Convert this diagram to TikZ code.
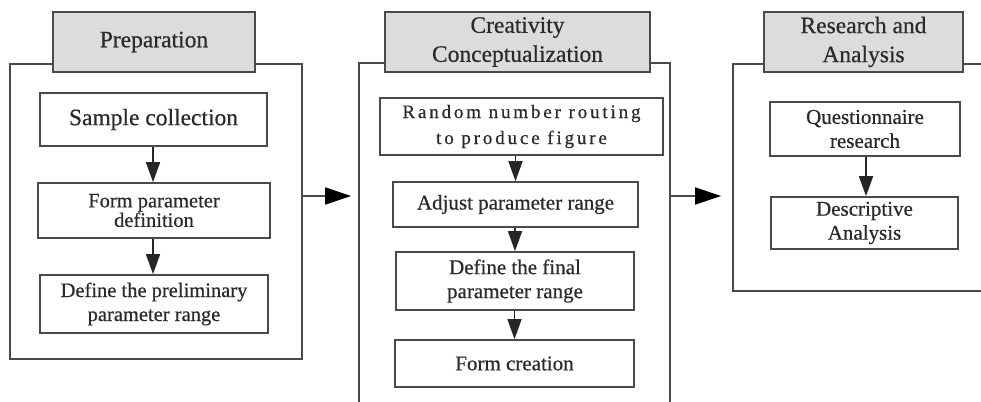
\documentclass[tikz,border=0pt]{standalone}
\usepackage{fontspec}
\setmainfont{Liberation Serif}[UprightFeatures={FakeBold=0.5}]
\newfontfamily\spacedfont{Liberation Serif}[LetterSpace=15,UprightFeatures={FakeBold=0.5}]
\usetikzlibrary{arrows.meta,calc}
\definecolor{linec}{HTML}{4A4A4A}
\definecolor{headfill}{HTML}{DCDCDC}
\definecolor{textc}{HTML}{2A2A2A}
\tikzset{
  x=1pt,y=1pt,
  frame/.style={draw=linec,line width=1.7pt,rectangle,inner sep=0pt},
  head/.style={draw=linec,line width=1.8pt,fill=headfill,rectangle,inner sep=0pt,align=center,text=textc,font=\fontsize{23.5}{29}\selectfont},
  stepbox/.style={draw=linec,line width=1.7pt,fill=white,rectangle,inner sep=0pt,align=center,text=textc,font=\fontsize{21}{24}\selectfont},
  arr/.style={draw=black!85,line width=1.6pt,-{Triangle[length=20pt,width=14pt]}},
  harr/.style={draw=linec,line width=1.7pt,-{Triangle[length=26pt,width=17pt,color=black]}},
}
\begin{document}
\begin{tikzpicture}
\clip (0,0) rectangle (981,-401);
\useasboundingbox (0,0) rectangle (981,-401);
% frames
\node[frame,minimum width=292,minimum height=295] (f1) at (156,-211.5) {};
\node[frame,minimum width=311,minimum height=357] (f2) at (514.5,-241.5) {};
\node[frame,minimum width=262,minimum height=227] (f3) at (864,-177.5) {};
% headers
\node[head,minimum width=202,minimum height=60] (h1) at (154,-42) {Preparation};
\node[head,minimum width=265,minimum height=60] (h2) at (517.5,-42) {Creativity\\Conceptualization};
\node[head,minimum width=199,minimum height=60] (h3) at (863.5,-42) {Research and\\Analysis};
% panel 1
\node[stepbox,minimum width=227,minimum height=53,font=\fontsize{23.5}{26}\selectfont] (s1) at (153.5,-119.5) {Sample collection};
\node[stepbox,minimum width=232,minimum height=55,font=\fontsize{20.5}{19.5}\selectfont] (s2) at (154,-210.5) {Form parameter\\definition};
\node[stepbox,minimum width=228,minimum height=58,font=\fontsize{20.5}{24}\selectfont] (s3) at (154,-304) {Define the preliminary\\parameter range};
% panel 2
\node[stepbox,minimum width=283,minimum height=57,font=\fontsize{19}{26}\spacedfont] (c1) at (521.5,-126.5) {Random number routing\\to produce figure};
\node[stepbox,minimum width=245,minimum height=45] (c2) at (515.5,-204.5) {Adjust parameter range};
\node[stepbox,minimum width=238,minimum height=58] (c3) at (515,-281) {Define the final\\parameter range};
\node[stepbox,minimum width=239,minimum height=47] (c4) at (514.5,-363.5) {Form creation};
% panel 3
\node[stepbox,minimum width=190,minimum height=54] (r1) at (865,-129) {Questionnaire\\research};
\node[stepbox,minimum width=187,minimum height=52] (r2) at (864.5,-223) {Descriptive\\Analysis};
% vertical arrows
\draw[arr] (s1.south -| 153,0) -- (s2.north -| 153,0);
\draw[arr] (s2.south -| 153,0) -- (s3.north -| 153,0);
\draw[arr] (c1.south -| c2.north) -- (c2.north);
\draw[arr] (c2.south -| c3.north) -- (c3.north);
\draw[arr] (c3.south -| c4.north) -- (c4.north);
\draw[arr] (r1.south -| 866,0) -- (r2.north -| 866,0);
% horizontal arrows
\coordinate (ya) at (0,-196);
\draw[harr] (f1.east |- ya) -- ([xshift=-7pt]f2.west |- ya);
\draw[harr] (f2.east |- ya) -- ([xshift=-11pt]f3.west |- ya);
\end{tikzpicture}
\end{document}
